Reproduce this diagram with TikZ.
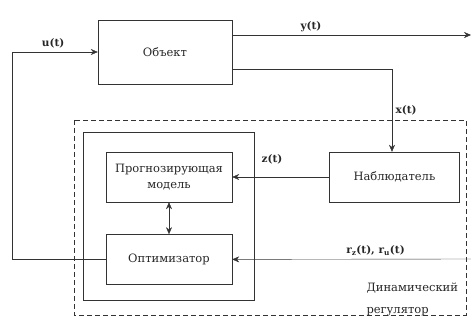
\documentclass[tikz,border=0pt]{standalone}
\usepackage{fontspec}
\setmainfont{DejaVu Serif}
\usetikzlibrary{arrows.meta, positioning}
\tikzset{
  block/.style={rectangle, draw=black!80, minimum width=126pt, minimum height=50pt, align=center, text=black!85, font=\fontsize{11.5}{16}\selectfont},
  sig/.style={text=black!85, font=\fontsize{10.5}{14}\selectfont\bfseries},
  arrow/.style={draw=black!80, -{Stealth[length=7pt,width=6pt]}}
}

\begin{document}
\begin{tikzpicture}[x=1pt, y=-1pt, node distance=32pt and 97pt]
  \useasboundingbox (0,0) rectangle (471,320);

  % outer controller frame and inner frame
  \draw[black!80, dash pattern=on 5pt off 3pt] (74,120) rectangle (466,315);
  \draw[black!80] (83,132) rectangle (254,300);

  \node (obj) [block, minimum width=134pt, minimum height=64pt] at (165,52) {Объект};
  \node (model) [block] at (169,177) {Прогнозирующая\\модель};
  \node (optim) [block, below=of model] {Оптимизатор};
  \node (observer) [block, minimum width=130pt, right=of model] {Наблюдатель};
  \node (ctrl) [anchor=west, align=left, text=black!85, font=\fontsize{11.5}{22}\selectfont] at (363,299) {Динамический\\регулятор};

  \coordinate (yout) at (471,35);
  \coordinate (rin) at (471,259);
  \coordinate (xturn) at (392,69);

  \draw [arrow] ([yshift=17pt]obj.east) -- node[sig, above, pos=0.33] {y(t)} (yout);
  \draw [arrow] ([yshift=-17pt]obj.east) -- (xturn) -- node[sig, right, pos=0.5] {x(t)} (xturn |- observer.north);
  \draw [arrow] (observer.west) -- node[sig, above=9pt, pos=0.59] {z(t)} (model.east);
  \draw [arrow] (rin) -- node[sig, above, pos=0.4] {r\textsubscript{z}(t), r\textsubscript{u}(t)} (optim.east);
  \draw [draw=black!80, {Stealth[length=7pt,width=6pt]}-{Stealth[length=7pt,width=6pt]}] (model.south) -- (optim.north);
  \draw [arrow] (optim.west) -| (12,52) -- node[sig, above, pos=0.48] {u(t)} (obj.west);

\end{tikzpicture}
\end{document}
